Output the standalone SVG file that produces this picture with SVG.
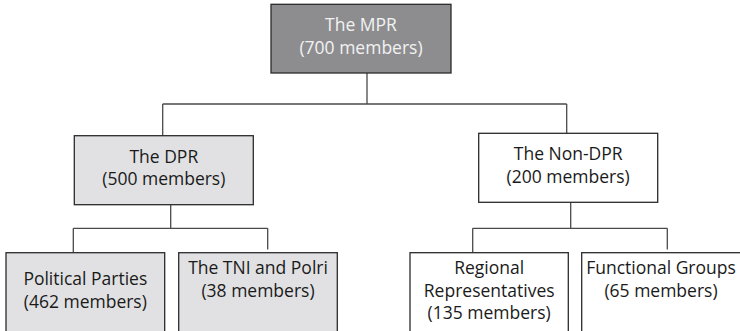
<svg xmlns="http://www.w3.org/2000/svg" width="740" height="331" viewBox="0 0 740 331">
<style>
.box{stroke:#2b2b2b;stroke-width:1.3}
.dark{fill:#8d8d90}
.light{fill:#e1e1e3}
.white{fill:#ffffff}
text{font-family:"Open Sans","Noto Sans","DejaVu Sans",sans-serif;font-size:17.5px;text-anchor:middle;fill:#1a1a1a}
.inv{fill:#f2f2f2}
.conn{fill:none;stroke:#4a4a4a;stroke-width:1.3}
</style>
<rect width="740" height="331" fill="#ffffff"/>
<g id="connectors">
<path class="conn" d="M367 73V104M162.7 104H566.7M162.7 104V135.7M566.7 104V133.3"/>
<path class="conn" d="M170.7 204.7V228.3M73.3 228.3H267.7M73.3 228.3V252.7M267.7 228.3V249.5"/>
<path class="conn" d="M570.7 202.3V228.3M472.7 228.3H667.3M472.7 228.3V252.7M667.3 228.3V249.5"/>
</g>
<g id="mpr">
<rect class="box dark" x="271" y="4.3" width="180" height="68.7"/>
<text class="inv" x="361" y="31">The MPR</text>
<text class="inv" x="361" y="53.8">(700 members)</text>
</g>
<g id="dpr">
<rect class="box light" x="74.3" y="135.7" width="179" height="69"/>
<text x="163.8" y="162.6">The DPR</text>
<text x="163.8" y="185.3">(500 members)</text>
</g>
<g id="nondpr">
<rect class="box white" x="478.7" y="133.3" width="179" height="69"/>
<text x="568.2" y="160">The Non-DPR</text>
<text x="568.2" y="183">(200 members)</text>
</g>
<g id="political">
<rect class="box light" x="6" y="252.7" width="158.7" height="100"/>
<text x="85.3" y="285">Political Parties</text>
<text x="85.3" y="308">(462 members)</text>
</g>
<g id="tni">
<rect class="box light" x="178.7" y="252.7" width="158.6" height="100"/>
<text x="258" y="274">The TNI and Polri</text>
<text x="258" y="296.7">(38 members)</text>
</g>
<g id="regional">
<rect class="box white" x="410" y="252.7" width="158.3" height="100"/>
<text x="489.2" y="274">Regional</text>
<text x="489.2" y="296.7">Representatives</text>
<text x="489.2" y="319.3">(135 members)</text>
</g>
<g id="functional">
<rect class="box white" x="581.7" y="252.7" width="170" height="100"/>
<text x="661" y="274">Functional Groups</text>
<text x="661" y="296.7">(65 members)</text>
</g>
</svg>
